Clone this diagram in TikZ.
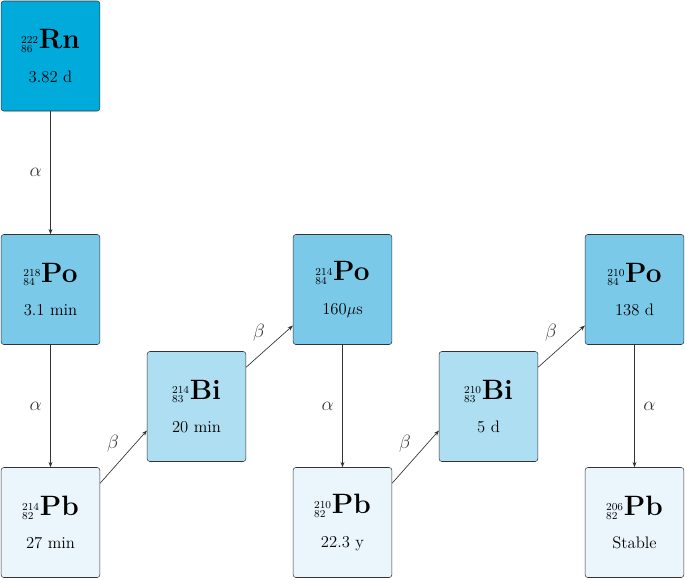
\documentclass[tikz,border=0pt]{standalone}
\usetikzlibrary{calc,arrows.meta}
\definecolor{cRn}{RGB}{0,170,218}
\definecolor{cPo}{RGB}{122,201,232}
\definecolor{cBi}{RGB}{174,222,241}
\definecolor{cPb}{RGB}{235,245,252}
\tikzset{
  iso/.style={draw=black!80,rounded corners=2pt,minimum width=74pt,minimum height=82.5pt,align=center,inner sep=0pt,font=\fontsize{12.5}{15}\selectfont},
  arr/.style={-{Stealth[length=4pt,width=3pt]},black!80,line width=0.5pt},
  lab/.style={font=\fontsize{14}{16}\selectfont}
}
\newcommand{\isot}[4]{{\fontsize{11}{12}\selectfont$^{#1}_{#2}$}{\fontsize{21}{24}\selectfont\textbf{#3}}\\[10pt]#4}
\begin{document}
\begin{tikzpicture}[x=0.75pt,y=-0.75pt]
\useasboundingbox (0,0) rectangle (685,579);
\node[iso,fill=cRn] (rn) at (50.5,56) {\isot{222}{86}{Rn}{3.82 d}};
\node[iso,fill=cPo] (po1) at (50.5,289.5) {\isot{218}{84}{Po}{3.1 min}};
\node[iso,fill=cPb] (pb1) at (50.5,522.5) {\isot{214}{82}{Pb}{27 min}};
\node[iso,fill=cBi] (bi1) at (196.5,406.5) {\isot{214}{83}{Bi}{20 min}};
\node[iso,fill=cPo] (po2) at (342.5,289.5) {\isot{214}{84}{Po}{160$\mu$s}};
\node[iso,fill=cPb] (pb2) at (342.5,522.5) {\isot{210}{82}{Pb}{22.3 y}};
\node[iso,fill=cBi] (bi2) at (488.5,406.5) {\isot{210}{83}{Bi}{5 d}};
\node[iso,fill=cPo] (po3) at (634.5,289.5) {\isot{210}{84}{Po}{138 d}};
\node[iso,fill=cPb] (pb3) at (634.5,522.5) {\isot{206}{82}{Pb}{Stable}};
\draw[arr] (rn) -- node[lab,left=3pt]{$\alpha$} (po1);
\draw[arr] (po1) -- node[lab,left=3pt]{$\alpha$} (pb1);
\draw[arr] (po2) -- node[lab,left=3pt]{$\alpha$} (pb2);
\draw[arr] (po3) -- node[lab,right=3pt]{$\alpha$} (pb3);
\draw[arr] ($(pb1.north east)+(0,16)$) -- node[lab,above left=0pt]{$\beta$} ($(bi1.west)+(0,24)$);
\draw[arr] ($(bi1.north east)+(0,16)$) -- node[lab,above left=0pt]{$\beta$} ($(po2.west)+(0,36)$);
\draw[arr] ($(pb2.north east)+(0,16)$) -- node[lab,above left=0pt]{$\beta$} ($(bi2.west)+(0,24)$);
\draw[arr] ($(bi2.north east)+(0,16)$) -- node[lab,above left=0pt]{$\beta$} ($(po3.west)+(0,36)$);
\end{tikzpicture}
\end{document}
